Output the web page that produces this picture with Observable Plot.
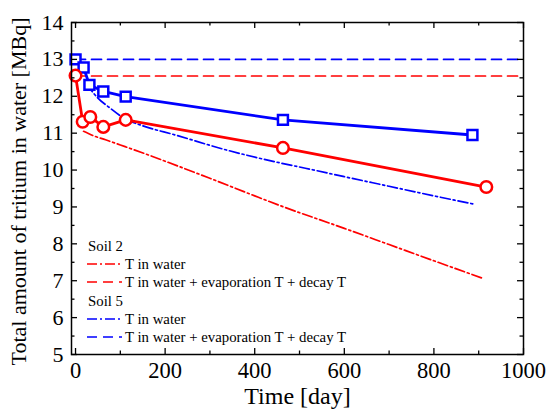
<!DOCTYPE html>
<html><head><meta charset="utf-8">
<script src="https://cdn.jsdelivr.net/npm/d3@7"></script>
<script src="https://cdn.jsdelivr.net/npm/@observablehq/plot@0.6"></script>
<style>
body{margin:0;background:#fff}
#c{position:relative;width:548px;height:413px}
#c svg, #c svg text{font-family:"Liberation Serif","Times New Roman",serif !important}
</style>
</head><body><div id="c"></div>
<script>
// Measured data
const soil2Days = [0, 16, 33, 62, 112, 463, 917];
const soil2Meas = [12.56, 11.31, 11.44, 11.17, 11.36, 10.60, 9.54];
const soil5Days = [0, 18, 31, 62, 112, 463, 886];
const soil5Meas = [13.0, 12.78, 12.31, 12.13, 11.99, 11.36, 10.95];
// Model: T in water
const soil2ModelDays = [18, 40, 67, 100, 149, 200, 297, 400, 458, 600, 700, 800, 908];
const soil2Model = [11.05, 10.93, 10.82, 10.68, 10.47, 10.24, 9.79, 9.30, 9.03, 8.42, 7.98, 7.54, 7.07];
const soil5ModelDays = [25, 33, 50, 75, 112, 150, 223, 335, 458, 513, 600, 700, 800, 888];
const soil5Model = [12.35, 12.2, 11.95, 11.7, 11.38, 11.2, 10.95, 10.55, 10.19, 10.05, 9.82, 9.56, 9.3, 9.08];
// Model: T in water + evaporation T + decay T
const totalDays = [0, 1000];
const soil2Total = [12.55, 12.55];
const soil5Total = [13.0, 13.0];
// Ticks
const xMajor = [0, 200, 400, 600, 800, 1000];
const xMinor = [100, 300, 500, 700, 900];
const yMajor = [5, 6, 7, 8, 9, 10, 11, 12, 13, 14];
const yMinor = [5.5, 6.5, 7.5, 8.5, 9.5, 10.5, 11.5, 12.5, 13.5];
// Texts
const xTitle = "Time [day]";
const yTitle = "Total amount of tritium in water [MBq]";
const legendGroups = ["Soil 2", "Soil 5"];
const legendLabels = ["T in water", "T in water + evaporation T + decay T"];

const RED = "#ff0000", BLUE = "#0000ff";
const DASH = "10,6", DASHDOT = "10,3,2,3";
const FONT = "Liberation Serif";

const W = 548, H = 413, mL = 71, mR = 25, mT = 22, mB = 59;
const innerH = H - mT - mB, innerW = W - mL - mR;

const pts = (xs, ys) => xs.map((x, i) => ({x, y: ys[i]}));

const chart = Plot.plot({
  width: W, height: H,
  marginLeft: mL, marginRight: mR, marginTop: mT, marginBottom: mB,
  style: {color: "#000", background: "#fff"},
  x: {domain: [-9, 1000]},
  y: {domain: [5, 14]},
  marks: [
    Plot.line(pts(totalDays, soil5Total), {x: "x", y: "y", stroke: BLUE, strokeWidth: 1.7, strokeDasharray: DASH}),
    Plot.line(pts(totalDays, soil2Total), {x: "x", y: "y", stroke: RED, strokeWidth: 1.7, strokeDasharray: DASH}),
    Plot.line(pts(soil5ModelDays, soil5Model), {x: "x", y: "y", stroke: BLUE, strokeWidth: 1.7, strokeDasharray: DASHDOT, curve: "monotone-x"}),
    Plot.line(pts(soil2ModelDays, soil2Model), {x: "x", y: "y", stroke: RED, strokeWidth: 1.7, strokeDasharray: DASHDOT, curve: "monotone-x"}),
    Plot.line(pts(soil5Days, soil5Meas), {x: "x", y: "y", stroke: BLUE, strokeWidth: 2.8}),
    Plot.line(pts(soil2Days, soil2Meas), {x: "x", y: "y", stroke: RED, strokeWidth: 2.8}),
    Plot.dot(pts(soil5Days, soil5Meas), {x: "x", y: "y", symbol: "square", r: 5.6, stroke: BLUE, strokeWidth: 2.5, fill: "#fff"}),
    Plot.dot(pts(soil2Days, soil2Meas), {x: "x", y: "y", symbol: "circle", r: 5.8, stroke: RED, strokeWidth: 2.5, fill: "#fff"}),
    Plot.frame({stroke: "#000", strokeWidth: 1.5}),
    Plot.tickX(xMajor, {x: d => d, insetTop: innerH - 6, stroke: "#000", strokeWidth: 1.3}),
    Plot.tickX(xMajor, {x: d => d, insetBottom: innerH - 6, stroke: "#000", strokeWidth: 1.3}),
    Plot.tickX(xMinor, {x: d => d, insetTop: innerH - 3.5, stroke: "#000", strokeWidth: 1.3}),
    Plot.tickX(xMinor, {x: d => d, insetBottom: innerH - 3.5, stroke: "#000", strokeWidth: 1.3}),
    Plot.tickY(yMajor, {y: d => d, insetRight: innerW - 6, stroke: "#000", strokeWidth: 1.3}),
    Plot.tickY(yMajor, {y: d => d, insetLeft: innerW - 6, stroke: "#000", strokeWidth: 1.3}),
    Plot.tickY(yMinor, {y: d => d, insetRight: innerW - 3.5, stroke: "#000", strokeWidth: 1.3}),
    Plot.tickY(yMinor, {y: d => d, insetLeft: innerW - 3.5, stroke: "#000", strokeWidth: 1.3}),
    Plot.axisX({ticks: xMajor, tickSize: 0, tickPadding: 8, fontSize: 22.5, fontFamily: FONT, tickFormat: d => String(d), label: null}),
    Plot.axisY({ticks: yMajor, tickSize: 0, tickPadding: 8, fontSize: 22, fontFamily: FONT, tickFormat: d => String(d), label: null}),
    Plot.text([xTitle], {frameAnchor: "bottom", dy: 49, fontSize: 24, fontFamily: FONT, fill: "#000", textAnchor: "middle"}),
    Plot.text([yTitle], {frameAnchor: "left", dx: -53, dy: 3, rotate: -90, fontSize: 22, fontFamily: FONT, fill: "#000", textAnchor: "middle"})
  ]
});
document.getElementById("c").appendChild(chart);

// Legend (inside plot, bottom-left)
const svg = d3.select(chart);
const g = svg.append("g").attr("font-family", FONT).attr("font-size", 14.8)
  .attr("fill", "#000").attr("text-anchor", "start");
const entries = [
  {type: "head", text: legendGroups[0], y: 246},
  {type: "line", color: RED, dash: DASHDOT, text: legendLabels[0], y: 264},
  {type: "line", color: RED, dash: DASH, text: legendLabels[1], y: 282},
  {type: "head", text: legendGroups[1], y: 301},
  {type: "line", color: BLUE, dash: DASHDOT, text: legendLabels[0], y: 319},
  {type: "line", color: BLUE, dash: DASH, text: legendLabels[1], y: 337}
];
for (const e of entries) {
  if (e.type === "head") {
    g.append("text").attr("x", 88).attr("y", e.y).attr("dy", "0.35em").text(e.text);
  } else {
    g.append("line").attr("x1", 87).attr("x2", 122).attr("y1", e.y).attr("y2", e.y)
      .attr("stroke", e.color).attr("stroke-width", 1.7).attr("stroke-dasharray", e.dash);
    g.append("text").attr("x", 125).attr("y", e.y).attr("dy", "0.35em").text(e.text);
  }
}
</script>
</body></html>
